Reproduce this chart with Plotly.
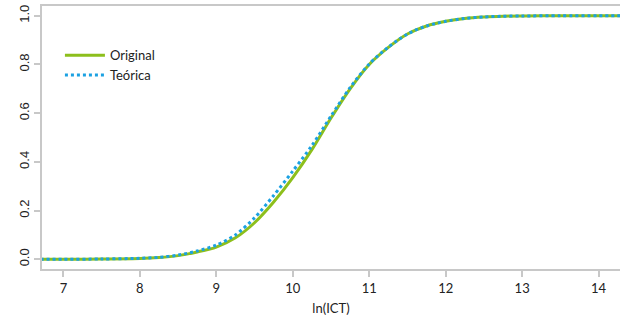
import plotly.graph_objects as go

ln_ict = [6.7, 7.0, 7.5, 8.0, 8.25, 8.5, 8.75, 9.0, 9.25, 9.5, 9.75, 10.0, 10.25,
          10.5, 10.75, 11.0, 11.25, 11.5, 11.75, 12.0, 12.25, 12.5, 12.75, 13.0,
          13.5, 14.0, 14.3]
original = [0.000, 0.000, 0.001, 0.003, 0.007, 0.015, 0.030, 0.050, 0.088, 0.150,
            0.235, 0.335, 0.450, 0.580, 0.700, 0.800, 0.870, 0.925, 0.958, 0.977,
            0.989, 0.995, 0.998, 0.999, 1.000, 1.000, 1.000]
teorica = [0.000, 0.000, 0.001, 0.004, 0.008, 0.017, 0.034, 0.058, 0.100, 0.170,
           0.262, 0.362, 0.467, 0.588, 0.705, 0.802, 0.871, 0.925, 0.958, 0.977,
           0.989, 0.995, 0.998, 0.999, 1.000, 1.000, 1.000]

x_ticks = [7, 8, 9, 10, 11, 12, 13, 14]
y_ticks = [0.0, 0.2, 0.4, 0.6, 0.8, 1.0]
y_tick_labels = ["0.0", "0.2", "0.4", "0.6", "0.8", "1.0"]

GREEN = "#8dbf1c"
BLUE = "#1ba1e2"
AXIS = "#c8c8c8"
FONT = "Lato"

fig = go.Figure()
fig.add_trace(go.Scatter(x=ln_ict, y=original, mode="lines", name="Original",
                         line=dict(color=GREEN, width=3, shape="spline", smoothing=0.8)))
fig.add_trace(go.Scatter(x=ln_ict, y=teorica, mode="lines", name="Teórica",
                         line=dict(color=BLUE, width=3, dash="dot", shape="spline",
                                   smoothing=0.8)))

fig.update_layout(
    width=620, height=323,
    margin=dict(l=42, r=0, t=6, b=54),
    paper_bgcolor="white", plot_bgcolor="white",
    font=dict(family=FONT, size=13, color="#222222"),
    showlegend=True,
    legend=dict(x=0.031, y=0.87, xanchor="left", yanchor="top",
                bgcolor="rgba(0,0,0,0)", font=dict(size=13, family=FONT),
                itemwidth=40, tracegroupgap=0),
    xaxis=dict(range=[6.72, 14.28], tickvals=x_ticks, showgrid=False, zeroline=False,
               showline=True, linecolor=AXIS, linewidth=2, mirror=True,
               ticks="outside", ticklen=6, tickcolor=AXIS, tickwidth=1.5,
               automargin=False,
               title=dict(text="ln(ICT)", standoff=9, font=dict(size=13, family=FONT))),
    yaxis=dict(range=[-0.04, 1.04], tickvals=y_ticks, ticktext=y_tick_labels,
               showgrid=False, zeroline=False, showline=True, linecolor=AXIS, linewidth=2,
               ticks="outside", ticklen=6, tickcolor=AXIS, tickwidth=1.5, tickangle=-90,
               automargin=False,
               tickfont=dict(family="Liberation Sans", size=13)),
)

fig.write_html("out.html", config={"displayModeBar": False},
               post_script="document.body.style.margin='0';document.body.style.padding='0';")
